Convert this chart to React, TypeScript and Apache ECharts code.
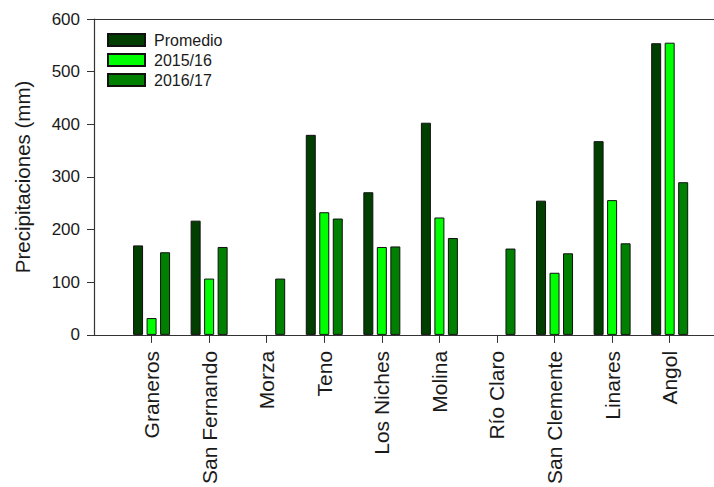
import React, { useEffect, useRef } from "react";
import * as echarts from "echarts";

const categories = [
  "Graneros",
  "San Fernando",
  "Morza",
  "Teno",
  "Los Niches",
  "Molina",
  "Río Claro",
  "San Clemente",
  "Linares",
  "Angol",
];
const seriesNames = ["Promedio", "2015/16", "2016/17"];
const promedio: (number | null)[] = [170, 217, null, 380, 271, 403, null, 255, 368, 554];
const temporada1516: (number | null)[] = [32, 107, null, 233, 167, 223, null, 118, 256, 555];
const temporada1617: (number | null)[] = [157, 167, 107, 221, 168, 184, 164, 155, 174, 290];
const yTicks = [0, 100, 200, 300, 400, 500, 600];

const colors = ["#003f00", "#00ff00", "#008000"];
const FONT = "Liberation Sans, Arial, sans-serif";
const X_MAX = 10.77;

function toPoints(values: (number | null)[]) {
  const pts: [number, number][] = [];
  values.forEach((v, i) => {
    if (v !== null) pts.push([i + 1, v]);
  });
  return pts;
}

export default function App() {
  const ref = useRef<HTMLDivElement>(null);

  useEffect(() => {
    if (!ref.current) return;
    const chart = echarts.init(ref.current, null, { renderer: "svg" });
    const allSeries = [promedio, temporada1516, temporada1617];
    chart.setOption({
      animation: false,
      backgroundColor: "#ffffff",
      textStyle: { fontFamily: FONT },
      grid: { left: 94, right: 0, top: 19, bottom: 150.5, containLabel: false },
      legend: {
        orient: "vertical",
        left: 107,
        top: 32,
        padding: 0,
        itemWidth: 37,
        itemHeight: 12,
        itemGap: 4,
        icon: "rect",
        data: seriesNames,
        textStyle: {
          fontSize: 16,
          lineHeight: 16,
          color: "#1a1a1a",
          fontFamily: FONT,
          padding: [0, 0, 0, 4],
        },
      },
      xAxis: [
        {
          type: "value",
          min: 0,
          max: X_MAX,
          interval: 1,
          axisLine: { show: true, lineStyle: { color: "#333", width: 1.2 } },
          axisTick: { show: true, inside: false, length: 8, lineStyle: { color: "#333" } },
          splitLine: { show: false },
          axisLabel: {
            rotate: 90,
            margin: 16,
            fontSize: 21,
            color: "#1a1a1a",
            fontFamily: FONT,
            showMinLabel: false,
            showMaxLabel: false,
            formatter: (v: number) =>
              Number.isInteger(v) && v >= 1 && v <= categories.length ? categories[v - 1] : "",
          },
        },
        {
          type: "value",
          position: "top",
          min: 0,
          max: X_MAX,
          axisLine: { show: true, onZero: false, lineStyle: { color: "#333", width: 1.2 } },
          axisTick: { show: false },
          axisLabel: { show: false },
          splitLine: { show: false },
        },
      ],
      yAxis: {
        type: "value",
        min: yTicks[0],
        max: yTicks[yTicks.length - 1],
        interval: 100,
        name: "Precipitaciones (mm)",
        nameLocation: "middle",
        nameGap: 61,
        nameTextStyle: { fontSize: 20.5, color: "#1a1a1a", fontFamily: FONT },
        axisLine: { show: true, lineStyle: { color: "#333", width: 1.2 } },
        axisTick: { show: true, inside: false, length: 7, lineStyle: { color: "#333" } },
        splitLine: { show: false },
        axisLabel: { fontSize: 17, margin: 14, color: "#1a1a1a", fontFamily: FONT },
      },
      series: allSeries.map((vals, i) => ({
        name: seriesNames[i],
        type: "bar",
        xAxisIndex: 0,
        data: toPoints(vals),
        barWidth: 10,
        barGap: "35%",
        itemStyle: { color: colors[i], borderColor: "#111", borderWidth: 1 },
      })),
    });
    return () => chart.dispose();
  }, []);

  return <div ref={ref} style={{ width: 714, height: 487, position: "absolute", left: 0, top: 0 }} />;
}
